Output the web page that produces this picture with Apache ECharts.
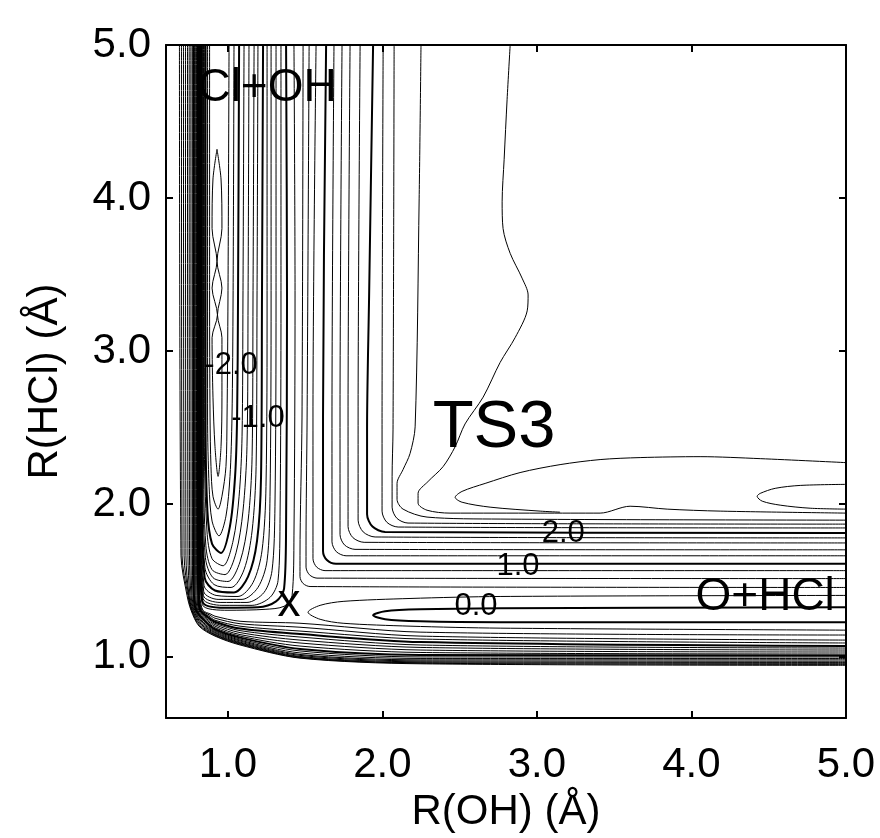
<!DOCTYPE html>
<html>
<head>
<meta charset="utf-8">
<script src="https://cdn.jsdelivr.net/npm/echarts@6/dist/echarts.min.js"></script>
<style>
  html, body { margin: 0; padding: 0; background: #fff; }
  #chart { width: 880px; height: 838px; }
</style>
</head>
<body>
<div id="chart"></div>
<script>
// Collinear O-H-Cl potential energy surface, contour lines in eV.
// Every contour is a polyline of [R(OH), R(HCl)] points in Angstrom.

const xTicks = [1.0, 2.0, 3.0, 4.0, 5.0];
const yTicks = [1.0, 2.0, 3.0, 4.0, 5.0];

// Levels drawn with a heavier stroke (the labelled ones).
const majorLevels = [-2.0, -1.0, 0.0, 1.0, 2.0];

// Repulsive wall: contours running down the left side and out along the bottom.
const wallLevels = [0.4, 0.6, 0.8, 1.0, 1.2, 1.4, 1.6, 1.8, 2.0, 2.2, 2.4, 2.6, 2.8, 3.0, 3.2, 3.4, 3.6];
const wallPaths = [
  [[0.816,5.0],[0.816,1.661],[0.819,1.402],[0.839,1.305],[0.891,1.279],[0.917,1.266],[1.079,1.233],[1.467,1.220],[2.244,1.162],[5.0,1.143]],
  [[0.814,5.0],[0.814,1.661],[0.816,1.402],[0.833,1.305],[0.885,1.272],[0.917,1.253],[1.079,1.217],[1.467,1.194],[2.244,1.136],[5.0,1.110]],
  [[0.810,5.0],[0.810,1.661],[0.813,1.402],[0.827,1.305],[0.878,1.266],[0.917,1.240],[1.079,1.201],[1.467,1.169],[2.244,1.117],[5.0,1.091]],
  [[0.807,5.0],[0.807,1.661],[0.810,1.402],[0.822,1.305],[0.872,1.259],[0.917,1.230],[1.079,1.185],[1.467,1.149],[2.244,1.097],[5.0,1.071]],
  [[0.803,5.0],[0.803,1.661],[0.806,1.402],[0.817,1.305],[0.867,1.255],[0.917,1.220],[1.079,1.172],[1.467,1.130],[2.244,1.078],[5.0,1.058]],
  [[0.797,5.0],[0.798,1.661],[0.801,1.402],[0.812,1.305],[0.863,1.250],[0.917,1.211],[1.079,1.159],[1.467,1.110],[2.244,1.062],[5.0,1.045]],
  [[0.792,5.0],[0.792,1.661],[0.794,1.402],[0.806,1.305],[0.858,1.246],[0.917,1.201],[1.079,1.146],[1.467,1.091],[2.244,1.045],[5.0,1.032]],
  [[0.785,5.0],[0.786,1.661],[0.788,1.402],[0.801,1.305],[0.854,1.241],[0.917,1.191],[1.079,1.136],[1.467,1.071],[2.244,1.029],[5.0,1.019]],
  [[0.778,5.0],[0.779,1.661],[0.781,1.402],[0.795,1.305],[0.849,1.237],[0.917,1.181],[1.079,1.126],[1.467,1.052],[2.244,1.013],[5.0,1.010]],
  [[0.770,5.0],[0.771,1.661],[0.775,1.402],[0.791,1.305],[0.845,1.232],[0.917,1.175],[1.079,1.117],[1.467,1.039],[2.244,1.000],[5.0,1.000]],
  [[0.761,5.0],[0.762,1.661],[0.768,1.402],[0.786,1.305],[0.840,1.227],[0.917,1.169],[1.079,1.110],[1.467,1.026],[2.244,0.990],[5.0,0.990]],
  [[0.750,5.0],[0.752,1.661],[0.762,1.402],[0.781,1.305],[0.836,1.223],[0.917,1.162],[1.079,1.104],[1.467,1.016],[2.244,0.981],[5.0,0.981]],
  [[0.739,5.0],[0.742,1.661],[0.755,1.402],[0.777,1.305],[0.831,1.218],[0.917,1.156],[1.079,1.097],[1.467,1.010],[2.244,0.974],[5.0,0.972]],
  [[0.726,5.0],[0.729,1.661],[0.749,1.402],[0.772,1.305],[0.827,1.214],[0.917,1.149],[1.079,1.092],[1.467,1.003],[2.244,0.968],[5.0,0.964]],
  [[0.713,5.0],[0.717,1.661],[0.746,1.402],[0.768,1.305],[0.822,1.209],[0.917,1.145],[1.079,1.087],[1.467,0.999],[2.244,0.962],[5.0,0.958]],
  [[0.700,5.0],[0.704,1.661],[0.742,1.402],[0.765,1.305],[0.817,1.205],[0.917,1.140],[1.079,1.083],[1.467,0.995],[2.244,0.959],[5.0,0.951]],
  [[0.687,5.0],[0.697,1.661],[0.736,1.402],[0.762,1.305],[0.814,1.201],[0.917,1.136],[1.079,1.078],[1.467,0.992],[2.244,0.955],[5.0,0.945]]
];

// Cl + OH entrance valley: U-shaped contours closing near the barrier.
const valleyLevels = [-2.4, -2.2, -2.0, -1.8, -1.6, -1.4, -1.2, -1.0, -0.8, -0.6, -0.4, -0.2, 0.0, 0.2];
const valleyPaths = [
  [[0.882,5.0],[0.882,3.346],[0.885,2.568],[0.891,2.244],[0.904,2.050],[0.937,1.966],[0.962,2.050],[0.988,2.244],[0.995,2.568],[1.001,3.346],[1.008,5.0]],
  [[0.869,5.0],[0.869,3.346],[0.869,2.568],[0.879,2.115],[0.898,1.888],[0.943,1.791],[0.988,1.920],[1.014,2.180],[1.027,2.568],[1.034,3.346],[1.040,5.0]],
  [[0.856,5.0],[0.856,3.346],[0.856,2.568],[0.868,1.953],[0.898,1.739],[0.956,1.680],[1.014,1.855],[1.047,2.180],[1.060,2.568],[1.066,3.346],[1.073,5.0]],
  [[0.848,5.0],[0.848,3.346],[0.848,2.439],[0.865,1.823],[0.898,1.642],[0.969,1.596],[1.034,1.758],[1.073,2.050],[1.092,2.439],[1.098,3.346],[1.105,5.0]],
  [[0.843,5.0],[0.843,3.346],[0.843,2.309],[0.858,1.726],[0.898,1.570],[0.982,1.538],[1.053,1.680],[1.098,1.953],[1.124,2.374],[1.131,3.346],[1.137,5.0]],
  [[0.838,5.0],[0.838,3.346],[0.838,2.244],[0.855,1.648],[0.904,1.518],[1.001,1.493],[1.079,1.622],[1.131,1.888],[1.157,2.309],[1.163,3.346],[1.170,5.0]],
  [[0.834,5.0],[0.834,3.346],[0.834,2.180],[0.852,1.583],[0.911,1.473],[1.021,1.454],[1.105,1.570],[1.157,1.823],[1.183,2.244],[1.189,3.346],[1.195,5.0]],
  [[0.830,5.0],[0.830,3.346],[0.830,2.115],[0.850,1.518],[0.917,1.434],[1.040,1.421],[1.131,1.525],[1.189,1.758],[1.215,2.180],[1.221,3.346],[1.228,5.0]],
  [[0.827,5.0],[0.827,3.346],[0.827,2.050],[0.846,1.467],[0.924,1.402],[1.066,1.395],[1.163,1.486],[1.221,1.693],[1.247,2.115],[1.254,3.346],[1.254,5.0]],
  [[0.825,5.0],[0.825,3.346],[0.825,1.985],[0.844,1.428],[0.937,1.376],[1.092,1.376],[1.195,1.454],[1.254,1.629],[1.273,2.050],[1.280,3.346],[1.280,5.0]],
  [[0.823,5.0],[0.823,3.346],[0.823,1.920],[0.842,1.402],[0.950,1.356],[1.124,1.356],[1.234,1.421],[1.286,1.564],[1.305,1.985],[1.312,3.346],[1.312,5.0]],
  [[0.821,5.0],[0.821,3.346],[0.821,1.855],[0.840,1.382],[0.962,1.337],[1.157,1.337],[1.273,1.389],[1.325,1.499],[1.338,1.920],[1.344,3.346],[1.344,5.0]],
  [[0.819,5.0],[0.819,3.346],[0.819,1.791],[0.836,1.363],[0.982,1.321],[1.195,1.324],[1.312,1.363],[1.364,1.447],[1.377,1.855],[1.383,3.346],[1.377,5.0]],
  [[0.817,5.0],[0.817,3.346],[0.817,1.726],[0.835,1.343],[1.001,1.305],[1.241,1.311],[1.364,1.331],[1.416,1.402],[1.428,1.791],[1.435,3.346],[1.428,5.0]]
];

// Bottom of the Cl + OH well: a narrow pinched island.
const islandLevels = [-2.6];
const islandPaths = [
  [[0.930,4.318],[0.956,4.124],[0.962,3.800],[0.930,3.586],[0.962,3.411],[0.933,3.236],[0.962,3.087],[0.962,2.698],[0.956,2.374],[0.937,2.180],[0.917,2.374],[0.904,2.698],[0.898,3.087],[0.933,3.236],[0.898,3.411],[0.930,3.586],[0.898,3.800],[0.904,4.124],[0.930,4.318]]
];

// Contours that turn the corner from the R(OH) stretch into the O + HCl exit valley.
const channelLevels = [0.4, 0.6, 0.8, 1.0, 1.2, 1.4, 1.6, 1.8, 2.0, 2.2, 2.4, 2.6];
const channelPaths = [
  [[1.487,5.0],[1.480,2.568],[1.467,1.661],[1.467,1.525],[1.487,1.480],[1.532,1.460],[5.0,1.454]],
  [[1.526,5.0],[1.513,2.568],[1.506,1.726],[1.506,1.587],[1.528,1.537],[1.577,1.515],[5.0,1.512]],
  [[1.571,5.0],[1.551,2.568],[1.551,1.791],[1.551,1.642],[1.575,1.587],[1.629,1.564],[5.0,1.564]],
  [[1.636,5.0],[1.616,2.568],[1.616,1.855],[1.616,1.693],[1.641,1.634],[1.700,1.609],[5.0,1.609]],
  [[1.687,5.0],[1.674,2.568],[1.674,1.920],[1.674,1.752],[1.702,1.688],[1.765,1.661],[5.0,1.661]],
  [[1.739,5.0],[1.726,2.568],[1.726,1.985],[1.726,1.800],[1.755,1.732],[1.823,1.703],[5.0,1.700]],
  [[1.791,5.0],[1.778,2.568],[1.778,2.050],[1.778,1.852],[1.809,1.780],[1.882,1.749],[5.0,1.745]],
  [[1.856,5.0],[1.843,2.568],[1.843,2.082],[1.843,1.894],[1.876,1.817],[1.953,1.784],[5.0,1.778]],
  [[1.940,5.0],[1.914,3.346],[1.901,2.484],[1.901,2.115],[1.901,1.933],[1.936,1.852],[2.018,1.817],[5.0,1.810]],
  [[2.005,5.0],[1.998,2.484],[1.998,2.115],[1.998,1.953],[2.029,1.880],[2.102,1.849],[5.0,1.843]],
  [[2.076,5.0],[2.069,2.484],[2.063,2.180],[2.063,1.979],[2.094,1.906],[2.166,1.875],[5.0,1.868]],
  [[2.250,5.0],[2.238,3.994],[2.212,2.504],[2.179,2.329],[2.134,2.225],[2.095,2.134],[2.095,2.030],[2.134,1.966],[2.289,1.914],[2.762,1.901],[5.0,1.894]]
];

// O + HCl product well: loops open towards large R(OH).
const wellLevels = [0.0, 0.2];
const wellPaths = [
  [[5.0,1.324],[2.762,1.318],[2.244,1.311],[2.018,1.298],[1.940,1.272],[2.018,1.246],[2.244,1.233],[2.762,1.227],[5.0,1.227]],
  [[5.0,1.402],[2.762,1.395],[2.179,1.382],[1.746,1.363],[1.597,1.337],[1.519,1.292],[1.597,1.246],[1.746,1.220],[2.179,1.201],[2.762,1.188],[5.0,1.175]]
];

// TS3 region: ridge contour from the top edge, the loop beside it and the plateau loop.
const ridgeLevels = [2.8, 2.8, 3.0];
const ridgePaths = [
  [[2.827,5.0],[2.807,4.642],[2.788,4.253],[2.775,3.975],[2.781,3.800],[2.827,3.638],[2.904,3.476],[2.943,3.366],[2.937,3.262],[2.859,3.087],[2.762,2.925],[2.652,2.698],[2.535,2.523],[2.471,2.374],[2.393,2.244],[2.296,2.147],[2.231,2.069],[2.231,2.005],[2.289,1.959],[2.438,1.940],[3.021,1.940],[3.409,1.940],[3.603,1.985],[3.843,1.966],[4.186,1.953],[5.0,1.940]],
  [[5.0,2.270],[4.445,2.296],[4.056,2.309],[3.668,2.303],[3.409,2.290],[3.150,2.257],[2.891,2.205],[2.665,2.134],[2.516,2.082],[2.471,2.043],[2.516,2.011],[2.697,1.979],[3.021,1.953],[3.150,1.946]],
  [[5.0,2.128],[4.704,2.121],[4.542,2.102],[4.445,2.069],[4.425,2.050],[4.458,2.018],[4.574,1.992],[4.768,1.972],[5.0,1.966]]
];

// Contour value labels, placed on their lines.
const levelLabelTexts = ['-2.0', '-1.0', '0.0', '1.0', '2.0'];
const levelLabelPoints = [[1.021,2.905],[1.195,2.562],[2.606,1.331],[2.878,1.590],[3.170,1.810]];

// Region names.
const regionTexts = ['Cl+OH', 'TS3', 'O+HCl', 'x'];
const regionPoints = [[1.254,4.720],[2.723,2.491],[4.477,1.389],[1.396,1.350]];

const FONT = 'Liberation Sans, Arial, Helvetica, sans-serif';
const regionFontSizes = [46, 67, 46, 46];

function isMajor(level) {
  return majorLevels.some((m) => Math.abs(m - level) < 1e-6);
}

function contourSeries(levels, paths) {
  return paths.map((path, i) => ({
    type: 'line',
    data: path,
    symbol: 'none',
    smooth: 0.3,
    silent: true,
    lineStyle: { color: '#000', width: isMajor(levels[i]) ? 2 : 1 },
    z: 2
  }));
}

const series = [].concat(
  contourSeries(wallLevels, wallPaths),
  contourSeries(valleyLevels, valleyPaths),
  contourSeries(islandLevels, islandPaths),
  contourSeries(channelLevels, channelPaths),
  contourSeries(wellLevels, wellPaths),
  contourSeries(ridgeLevels, ridgePaths)
);

const textMarker = {
  type: 'scatter',
  silent: true,
  symbolSize: 1,
  itemStyle: { color: 'rgba(0,0,0,0)', opacity: 1 },
  z: 5
};

series.push(Object.assign({}, textMarker, {
  data: levelLabelPoints.map((p, i) => ({ value: p, label: { formatter: levelLabelTexts[i] } })),
  label: { show: true, position: 'inside', color: '#000', opacity: 1, fontFamily: FONT, fontSize: 31 }
}));

series.push(Object.assign({}, textMarker, {
  data: regionPoints.map((p, i) => ({ value: p, label: { formatter: regionTexts[i], fontSize: regionFontSizes[i] } })),
  label: { show: true, position: 'inside', color: '#000', opacity: 1, fontFamily: FONT }
}));

const axisLineStyle = { show: true, onZero: false, lineStyle: { color: '#000', width: 2 } };
const tickStyle = (vals) => ({ show: true, inside: true, length: 7, customValues: vals, lineStyle: { color: '#000', width: 2 } });
const labelStyle = (vals, margin) => ({
  show: true, customValues: vals, margin: margin,
  formatter: (v) => Number(v).toFixed(1),
  color: '#000', fontSize: 42, fontFamily: FONT
});

const option = {
  animation: false,
  backgroundColor: '#fff',
  grid: { left: 166, top: 45, width: 680, height: 679, containLabel: false },
  xAxis: [
    {
      type: 'value', position: 'bottom', min: 0.6, max: 5.0,
      axisLine: axisLineStyle, axisTick: tickStyle(xTicks), axisLabel: labelStyle(xTicks, 26),
      splitLine: { show: false },
      name: 'R(OH) (Å)', nameLocation: 'middle', nameGap: 68,
      nameTextStyle: { color: '#000', fontSize: 42, fontFamily: FONT }
    },
    {
      type: 'value', position: 'top', min: 0.6, max: 5.0,
      axisLine: axisLineStyle, axisTick: tickStyle(xTicks), axisLabel: { show: false },
      splitLine: { show: false }
    }
  ],
  yAxis: [
    {
      type: 'value', position: 'left', min: 0.6, max: 5.0,
      axisLine: axisLineStyle, axisTick: tickStyle(yTicks), axisLabel: labelStyle(yTicks, 15),
      splitLine: { show: false },
      name: 'R(HCl) (Å)', nameLocation: 'middle', nameGap: 100,
      nameTextStyle: { color: '#000', fontSize: 42, fontFamily: FONT }
    },
    {
      type: 'value', position: 'right', min: 0.6, max: 5.0,
      axisLine: axisLineStyle, axisTick: tickStyle(yTicks), axisLabel: { show: false },
      splitLine: { show: false }
    }
  ],
  series: series
};

const chart = echarts.init(document.getElementById('chart'), null, { renderer: 'canvas' });
chart.setOption(option);
</script>
</body>
</html>
